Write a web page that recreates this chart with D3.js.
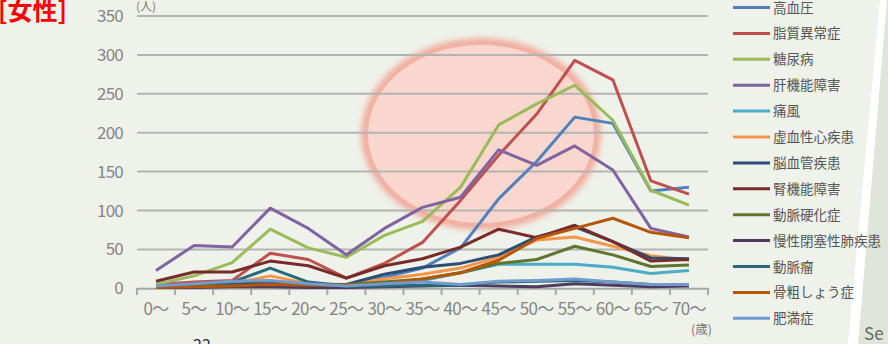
<!DOCTYPE html>
<html>
<head>
<meta charset="utf-8">
<script src="https://cdn.jsdelivr.net/npm/d3@7"></script>
<style>
  html, body { margin: 0; padding: 0; background: #eef2ea; }
  svg { display: block; }
  text { font-family: "Noto Sans CJK JP", "Noto Sans", sans-serif; }
</style>
</head>
<body>
<svg id="chart" width="888" height="344"></svg>
<script>
// Age bands (x categories)
const ages = ["0〜","5〜","10〜","15〜","20〜","25〜","30〜","35〜","40〜","45〜","50〜","55〜","60〜","65〜","70〜"];
const yTicks = [0, 50, 100, 150, 200, 250, 300, 350];

// Disease names (legend order) and their counts per age band
const diseases = ["高血圧","脂質異常症","糖尿病","肝機能障害","痛風","虚血性心疾患","脳血管疾患","腎機能障害","動脈硬化症","慢性閉塞性肺疾患","動脈瘤","骨粗しょう症","肥満症"];
const hypertension   = [2, 5, 8, 8, 5, 4, 14, 26, 52, 115, 163, 220, 212, 125, 130];
const dyslipidemia   = [5, 8, 10, 45, 37, 13, 32, 59, 113, 171, 224, 293, 268, 138, 121];
const diabetes       = [5, 16, 33, 76, 52, 40, 68, 86, 130, 210, 237, 261, 216, 126, 107];
const liver          = [23, 55, 53, 103, 77, 43, 77, 104, 117, 178, 158, 183, 152, 77, 66];
const gout           = [1, 2, 3, 3, 2, 3, 5, 10, 20, 31, 31, 31, 27, 19, 23];
const ischemicHeart  = [2, 4, 6, 16, 6, 5, 12, 18, 26, 40, 62, 66, 54, 42, 36];
const cerebrovasc    = [2, 3, 5, 8, 5, 5, 18, 27, 32, 43, 66, 79, 60, 39, 38];
const kidney         = [9, 21, 21, 35, 29, 13, 29, 38, 53, 76, 65, 81, 60, 35, 37];
const arterioscl     = [1, 2, 3, 4, 4, 5, 8, 12, 20, 32, 37, 54, 43, 28, 30];
const copd           = [1, 1, 2, 2, 1, 1, 2, 3, 4, 3, 2, 6, 4, 2, 3];
const aneurysm       = [2, 3, 8, 26, 8, 3, 3, 4, 4, 8, 9, 10, 8, 5, 5];
const osteoporosis   = [1, 2, 3, 5, 4, 4, 6, 12, 20, 36, 64, 77, 90, 72, 65];
const obesity        = [3, 6, 9, 10, 6, 3, 6, 8, 5, 9, 10, 12, 8, 5, 5];
const seriesValues = [hypertension, dyslipidemia, diabetes, liver, gout, ischemicHeart,
  cerebrovasc, kidney, arterioscl, copd, aneurysm, osteoporosis, obesity];
const colors = ["#4f81bd","#c0504d","#9bbb59","#8064a2","#4bacc6","#f79646",
  "#2c4d75","#772c2a","#5f7530","#4d3b62","#276a7c","#b65708","#729aca"];

const svg = d3.select("#chart");

// slide background: right panel with a white slanted band
svg.append("rect").attr("width", 888).attr("height", 344).attr("fill", "#eef2ea");
svg.append("path").attr("d", "M888,0 L888,344 L856,344 L886,0 Z").attr("fill", "#dfe6d9");
svg.append("path").attr("d", "M880,0 L887,0 L858,344 L848,344 Z").attr("fill", "#ffffff");

const x = d3.scaleBand().domain(ages).range([137, 708]);
const y = d3.scaleLinear().domain([0, 350]).range([288.3, 16]);
const cx = d => x(d) + x.bandwidth() / 2;

// highlight ellipse with a soft rim
const defs = svg.append("defs");
defs.append("filter").attr("id", "soft").attr("x", "-20%").attr("y", "-20%")
  .attr("width", "140%").attr("height", "140%")
  .append("feGaussianBlur").attr("stdDeviation", 3);
svg.append("ellipse").attr("cx", 481).attr("cy", 134).attr("rx", 115).attr("ry", 91)
  .attr("fill", "none").attr("stroke", "#f2a595").attr("stroke-width", 9)
  .attr("filter", "url(#soft)");
svg.append("ellipse").attr("cx", 481).attr("cy", 134).attr("rx", 113).attr("ry", 89)
  .attr("fill", "#f9d7cf");

// gridlines
svg.append("g").selectAll("line").data(yTicks.filter(t => t > 0)).join("line")
  .attr("x1", 137).attr("x2", 708)
  .attr("y1", d => y(d)).attr("y2", d => y(d))
  .attr("stroke", "#b3b3b0").attr("stroke-width", 2);

// y axis labels
svg.append("g").selectAll("text").data(yTicks).join("text")
  .attr("x", 123).attr("y", d => y(d) + 6)
  .attr("text-anchor", "end").attr("font-size", 17).attr("letter-spacing", -0.8)
  .attr("fill", "#858585").text(d => d);

// x axis
const xAxis = d3.axisBottom(x).tickSize(0).tickSizeOuter(0);
const gx = svg.append("g").attr("transform", "translate(0,288.3)").call(xAxis);
gx.select(".domain").attr("stroke", "#a8a8a5").attr("stroke-width", 2);
gx.selectAll("text").attr("font-size", 17).attr("letter-spacing", -0.6)
  .attr("fill", "#858585").attr("dy", "0.3em").attr("y", 22)
  .style("font-family", "'Noto Sans CJK JP', sans-serif");
// tick marks at band boundaries
svg.append("g").selectAll("line").data(ages.concat(["end"])).join("line")
  .attr("x1", (d, i) => 137 + i * x.bandwidth()).attr("x2", (d, i) => 137 + i * x.bandwidth())
  .attr("y1", 288).attr("y2", 295).attr("stroke", "#a8a8a5").attr("stroke-width", 2);

// unit labels
svg.append("text").attr("x", 136).attr("y", 11).attr("font-size", 12).attr("fill", "#777").text("(人)");
svg.append("text").attr("x", 691).attr("y", 334).attr("font-size", 12.5).attr("fill", "#777").text("(歳)");

// series lines
const line = d3.line().x((d, i) => cx(ages[i])).y(d => y(d));
svg.append("g").selectAll("path").data(seriesValues).join("path")
  .attr("d", d => line(d))
  .attr("fill", "none")
  .attr("stroke", (d, i) => colors[i])
  .attr("stroke-width", 3)
  .attr("stroke-linejoin", "round");

// legend
const lg = svg.append("g").selectAll("g").data(diseases).join("g")
  .attr("transform", (d, i) => `translate(733,${7.5 + i * 25.9})`);
lg.append("line").attr("x1", 0).attr("x2", 37).attr("y1", 0).attr("y2", 0)
  .attr("stroke", (d, i) => colors[i]).attr("stroke-width", 3);
lg.append("text").attr("x", 40).attr("y", 5).attr("font-size", 13.5)
  .attr("fill", "#555").text(d => d);

// title and page furniture
svg.append("text").attr("x", -2).attr("y", 20).attr("font-size", 25).attr("font-weight", "bold")
  .attr("fill", "#ff0000").text("[女性]");
svg.append("text").attr("x", 193).attr("y", 351).attr("font-size", 16).attr("fill", "#333").text("22");
svg.append("text").attr("x", 864).attr("y", 340).attr("font-size", 17).attr("fill", "#666").text("Se");
</script>
</body>
</html>
